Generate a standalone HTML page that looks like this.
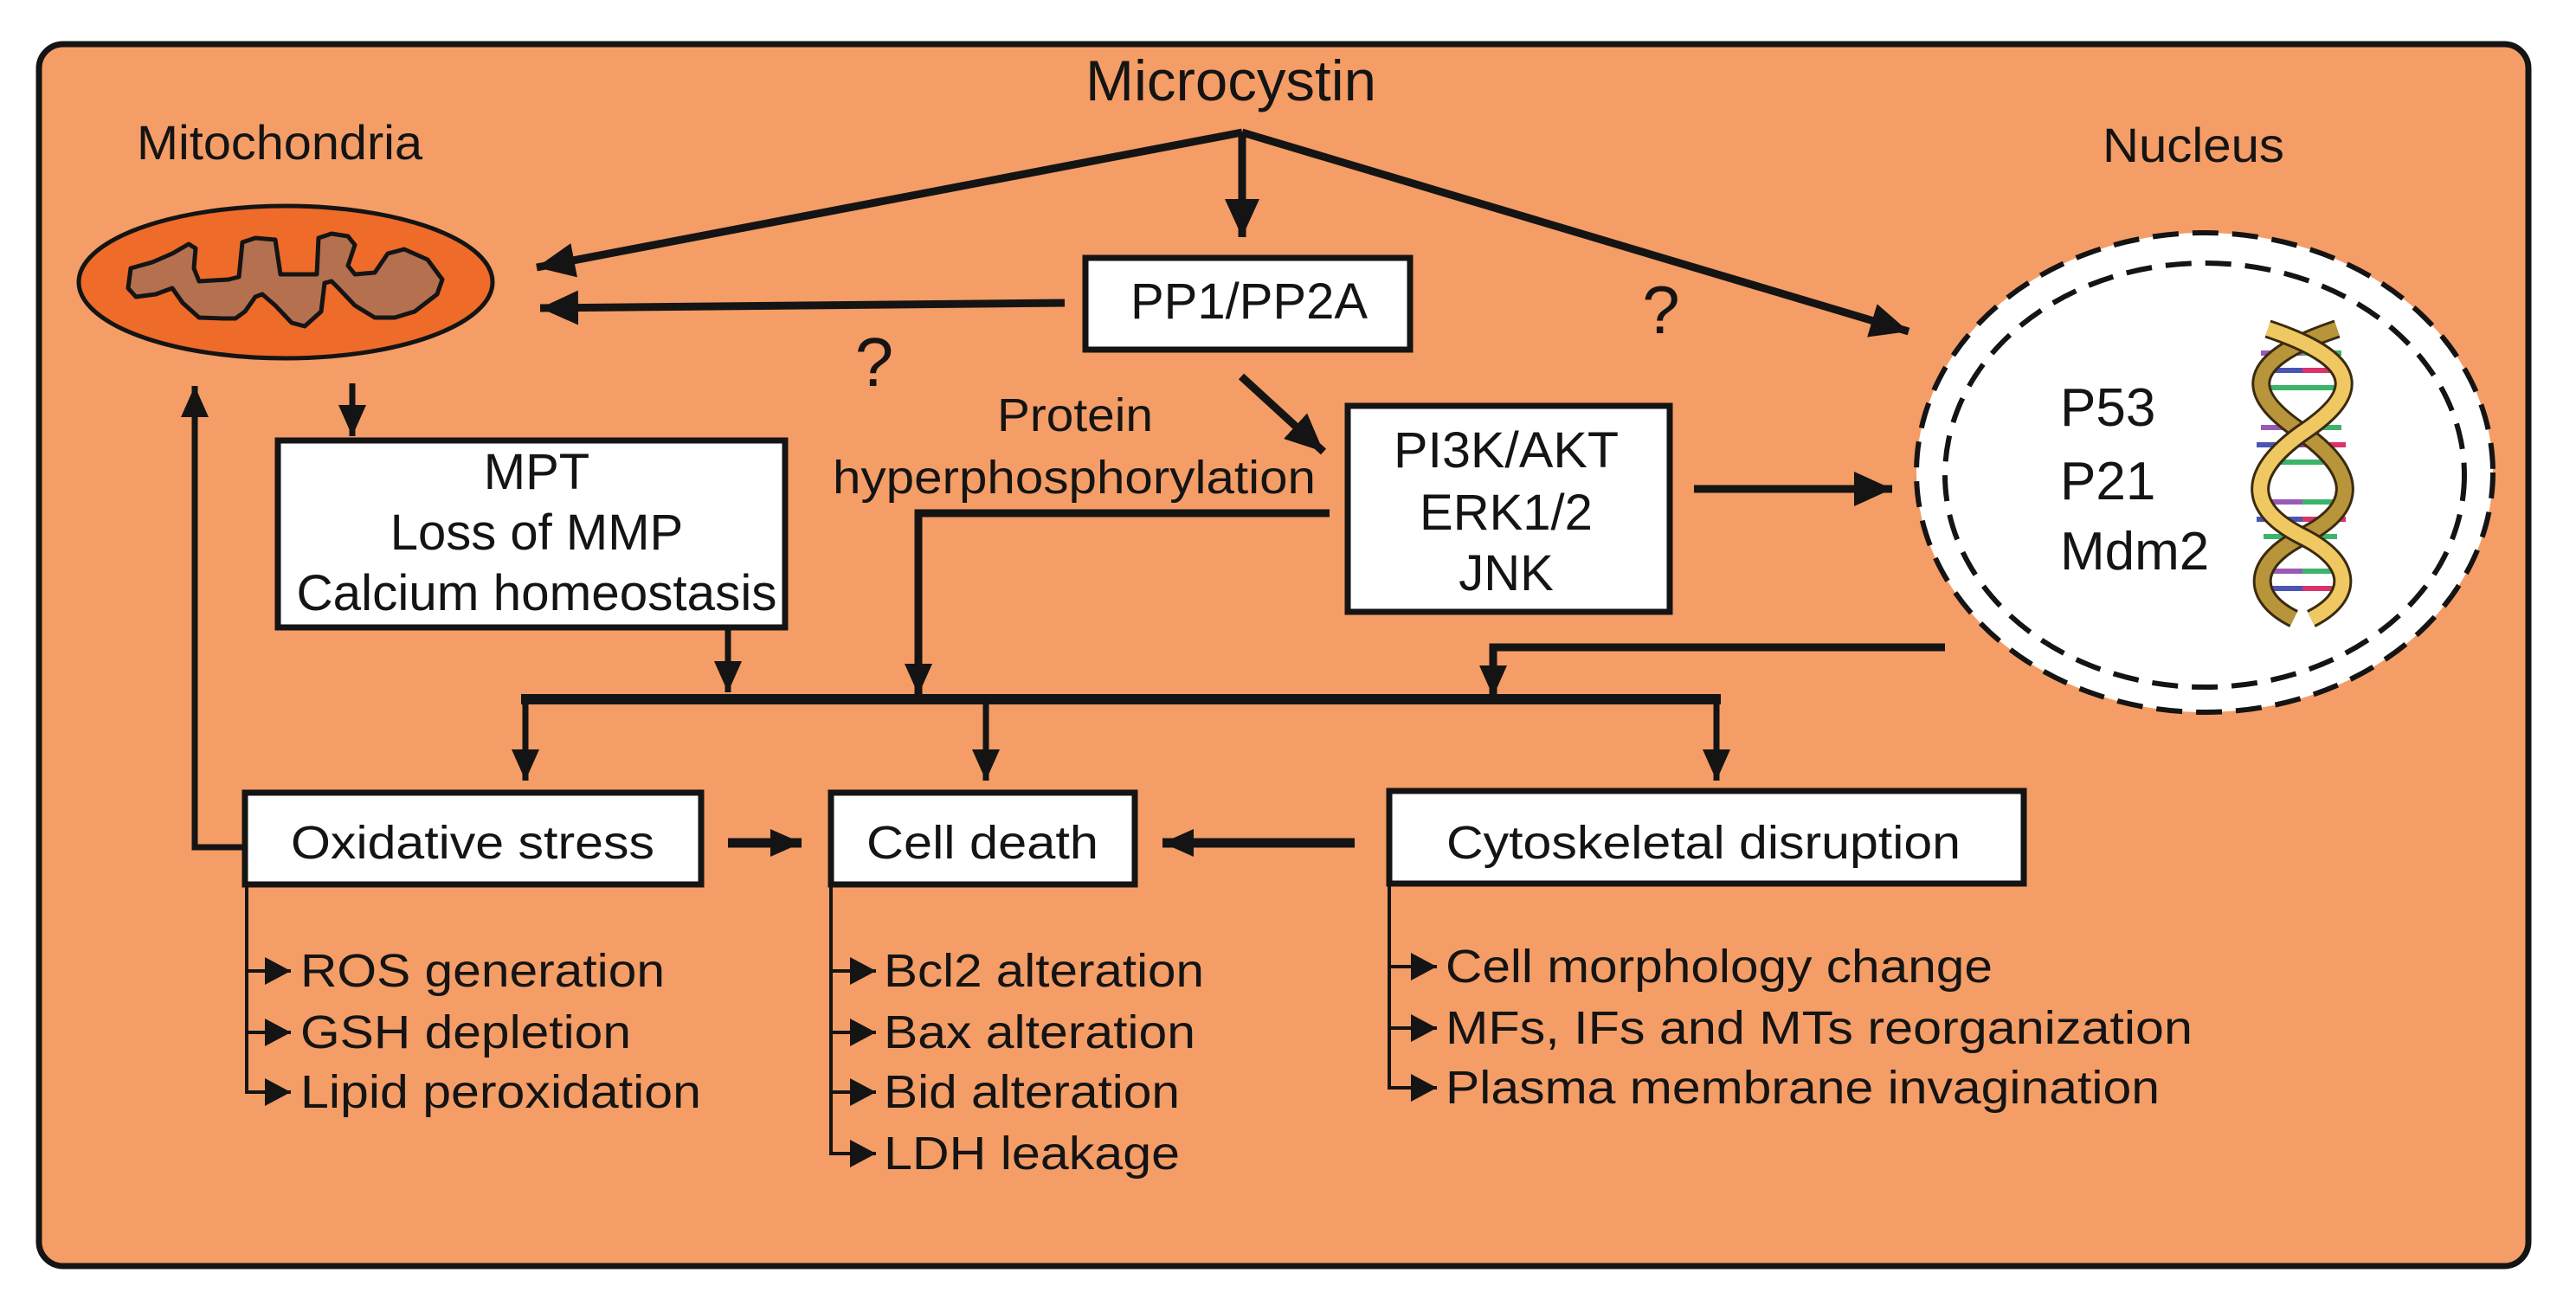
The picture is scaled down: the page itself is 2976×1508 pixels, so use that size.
<!DOCTYPE html>
<html><head><meta charset="utf-8"><style>html,body{margin:0;padding:0;background:#fff}svg{display:block}</style></head>
<body>
<svg width="2976" height="1508" viewBox="0 0 2976 1508" xmlns="http://www.w3.org/2000/svg" font-family="Liberation Sans, Arial, sans-serif" fill="#141414">
<defs>
<marker id="a" markerUnits="userSpaceOnUse" markerWidth="44" markerHeight="40" refX="36" refY="16" orient="auto"><path d="M0,0 L36,16 L0,32 Z" fill="#141414"/></marker>
<marker id="b" markerUnits="userSpaceOnUse" markerWidth="50" markerHeight="44" refX="44" refY="20" orient="auto"><path d="M0,0 L44,20 L0,40 Z" fill="#141414"/></marker>
<marker id="s" markerUnits="userSpaceOnUse" markerWidth="40" markerHeight="40" refX="30" refY="16" orient="auto"><path d="M0,0 L30,16 L0,32 Z" fill="#141414"/></marker>
</defs>
<rect x="45" y="51" width="2876" height="1412" rx="28" fill="#F49D66" stroke="#141414" stroke-width="7"/>

<text x="1422" y="116" font-size="66" text-anchor="middle" textLength="336" lengthAdjust="spacingAndGlyphs">Microcystin</text>
<text x="158" y="184" font-size="56" textLength="330" lengthAdjust="spacingAndGlyphs">Mitochondria</text>
<text x="2429" y="187" font-size="56" textLength="210" lengthAdjust="spacingAndGlyphs">Nucleus</text>

<!-- mitochondrion -->
<ellipse cx="330" cy="326" rx="239" ry="88" fill="#EE6B2A" stroke="#141414" stroke-width="5"/>
<path d="M151,310 L176,303 L199,293 L218,282 L226,287 L224,310 L230,325 L264,323 L276,320 L280,280 L295,275 L318,277 L324,317 L366,317 L368,275 L383,270 L402,273 L410,283 L402,307 L410,317 L433,315 L448,293 L467,288 L494,300 L511,323 L505,340 L479,360 L456,367 L433,367 L410,353 L391,333 L383,325 L375,327 L371,360 L352,377 L337,373 L318,353 L303,340 L295,343 L283,360 L272,368 L257,368 L230,367 L211,350 L199,333 L180,340 L157,343 L148,333 Z" fill="#B5704F" stroke="#141414" stroke-width="5" stroke-linejoin="round"/>

<!-- top arrows -->
<g stroke="#141414" stroke-width="9" fill="none">
<line x1="1435" y1="153" x2="620" y2="309" marker-end="url(#b)"/>
<line x1="1435" y1="153" x2="1435" y2="274" marker-end="url(#b)"/>
<line x1="1435" y1="153" x2="2205" y2="383" marker-end="url(#b)"/>
<line x1="1230" y1="350" x2="624" y2="356" marker-end="url(#b)"/>
<line x1="1434" y1="435" x2="1529" y2="522" marker-end="url(#b)"/>
<line x1="1957" y1="565" x2="2186" y2="565" marker-end="url(#b)"/>
</g>
<text x="1010" y="446" font-size="80" text-anchor="middle">?</text>
<text x="1919" y="385" font-size="78" text-anchor="middle">?</text>

<!-- PP1 box -->
<rect x="1254" y="298" width="375" height="106" fill="#fff" stroke="#141414" stroke-width="7"/>
<text x="1443" y="368" font-size="58" text-anchor="middle" textLength="274" lengthAdjust="spacingAndGlyphs">PP1/PP2A</text>

<text x="1242" y="498" font-size="54" text-anchor="middle" textLength="180" lengthAdjust="spacingAndGlyphs">Protein</text>
<text x="1241" y="570" font-size="54" text-anchor="middle" textLength="558" lengthAdjust="spacingAndGlyphs">hyperphosphorylation</text>

<!-- PI3K box -->
<rect x="1557" y="469" width="372" height="238" fill="#fff" stroke="#141414" stroke-width="7"/>
<g font-size="58" text-anchor="middle">
<text x="1740" y="540" textLength="260" lengthAdjust="spacingAndGlyphs">PI3K/AKT</text>
<text x="1740" y="612">ERK1/2</text>
<text x="1740" y="682">JNK</text>
</g>

<!-- nucleus -->
<ellipse cx="2547" cy="546" rx="333" ry="277" fill="#fff" stroke="#141414" stroke-width="6" stroke-dasharray="30 16"/>
<ellipse cx="2547" cy="549" rx="300" ry="245" fill="none" stroke="#141414" stroke-width="6" stroke-dasharray="30 16"/>
<g font-size="62">
<text x="2380" y="492">P53</text>
<text x="2380" y="577">P21</text>
<text x="2380" y="658">Mdm2</text>
</g>
<!-- DNA -->
<g stroke-width="6">
<line x1="2612" y1="408" x2="2705" y2="408" stroke="#9b59b6"/><line x1="2660" y1="408" x2="2705" y2="408" stroke="#3cb46a"/>
<line x1="2607" y1="428" x2="2710" y2="428" stroke="#4a55b5"/><line x1="2660" y1="428" x2="2710" y2="428" stroke="#d8336a"/>
<line x1="2615" y1="448" x2="2700" y2="448" stroke="#3cb46a"/>
<line x1="2612" y1="494" x2="2705" y2="494" stroke="#9b59b6"/><line x1="2660" y1="494" x2="2705" y2="494" stroke="#3cb46a"/>
<line x1="2607" y1="514" x2="2710" y2="514" stroke="#4a55b5"/><line x1="2660" y1="514" x2="2710" y2="514" stroke="#d8336a"/>
<line x1="2615" y1="534" x2="2700" y2="534" stroke="#3cb46a"/>
<line x1="2612" y1="580" x2="2705" y2="580" stroke="#9b59b6"/><line x1="2660" y1="580" x2="2705" y2="580" stroke="#3cb46a"/>
<line x1="2607" y1="600" x2="2710" y2="600" stroke="#4a55b5"/><line x1="2660" y1="600" x2="2710" y2="600" stroke="#d8336a"/>
<line x1="2615" y1="620" x2="2700" y2="620" stroke="#3cb46a"/>
<line x1="2612" y1="660" x2="2705" y2="660" stroke="#9b59b6"/><line x1="2660" y1="660" x2="2705" y2="660" stroke="#3cb46a"/>
<line x1="2607" y1="680" x2="2710" y2="680" stroke="#4a55b5"/><line x1="2660" y1="680" x2="2710" y2="680" stroke="#d8336a"/>
</g>
<path d="M2700,380 C2580,420 2600,460 2660,500 C2730,550 2720,590 2660,620 C2600,650 2600,690 2650,715" fill="none" stroke="#3a2a10" stroke-width="22"/>
<path d="M2700,380 C2580,420 2600,460 2660,500 C2730,550 2720,590 2660,620 C2600,650 2600,690 2650,715" fill="none" stroke="#B8953A" stroke-width="16"/>
<path d="M2620,380 C2740,420 2720,460 2660,500 C2590,550 2600,590 2660,620 C2720,650 2720,690 2670,715" fill="none" stroke="#3a2a10" stroke-width="22"/>
<path d="M2620,380 C2740,420 2720,460 2660,500 C2590,550 2600,590 2660,620 C2720,650 2720,690 2670,715" fill="none" stroke="#F0C862" stroke-width="16"/>

<!-- MPT box -->
<line x1="407" y1="443" x2="407" y2="504" stroke="#141414" stroke-width="7" marker-end="url(#a)"/>
<rect x="321" y="509" width="586" height="216" fill="#fff" stroke="#141414" stroke-width="7"/>
<g font-size="58" text-anchor="middle">
<text x="620" y="565">MPT</text>
<text x="620" y="635">Loss of MMP</text>
<text x="620" y="705" textLength="555" lengthAdjust="spacingAndGlyphs">Calcium homeostasis</text>
</g>

<!-- middle connectors -->
<g stroke="#141414" fill="none">
<line x1="841" y1="727" x2="841" y2="800" stroke-width="7" marker-end="url(#a)"/>
<polyline points="1536,593 1061,593 1061,803" stroke-width="9" marker-end="url(#a)"/>
<polyline points="2247,748 1725,748 1725,805" stroke-width="9" marker-end="url(#a)"/>
<line x1="602" y1="808" x2="1988" y2="808" stroke-width="12"/>
<line x1="607" y1="808" x2="607" y2="902" stroke-width="7" marker-end="url(#a)"/>
<line x1="1139" y1="808" x2="1139" y2="902" stroke-width="7" marker-end="url(#a)"/>
<line x1="1983" y1="808" x2="1983" y2="902" stroke-width="7" marker-end="url(#a)"/>
<polyline points="283,979 225,979 225,446" stroke-width="7" marker-end="url(#a)"/>
<line x1="841" y1="974" x2="926" y2="974" stroke-width="11" marker-end="url(#a)"/>
<line x1="1565" y1="974" x2="1343" y2="974" stroke-width="11" marker-end="url(#a)"/>
</g>

<!-- bottom boxes -->
<rect x="283" y="916" width="527" height="106" fill="#fff" stroke="#141414" stroke-width="7"/>
<text x="546" y="992" font-size="54" text-anchor="middle" textLength="420" lengthAdjust="spacingAndGlyphs">Oxidative stress</text>
<rect x="960" y="916" width="351" height="106" fill="#fff" stroke="#141414" stroke-width="7"/>
<text x="1135" y="992" font-size="54" text-anchor="middle" textLength="268" lengthAdjust="spacingAndGlyphs">Cell death</text>
<rect x="1605" y="914" width="733" height="107" fill="#fff" stroke="#141414" stroke-width="7"/>
<text x="1968" y="992" font-size="54" text-anchor="middle" textLength="594" lengthAdjust="spacingAndGlyphs">Cytoskeletal disruption</text>

<!-- sub lists -->
<g stroke="#141414" stroke-width="4" fill="none">
<polyline points="285,1024 285,1262 336,1262" marker-end="url(#s)"/>
<line x1="285" y1="1122" x2="336" y2="1122" marker-end="url(#s)"/>
<line x1="285" y1="1193" x2="336" y2="1193" marker-end="url(#s)"/>
<polyline points="960,1024 960,1333 1012,1333" marker-end="url(#s)"/>
<line x1="960" y1="1122" x2="1012" y2="1122" marker-end="url(#s)"/>
<line x1="960" y1="1193" x2="1012" y2="1193" marker-end="url(#s)"/>
<line x1="960" y1="1262" x2="1012" y2="1262" marker-end="url(#s)"/>
<polyline points="1605,1022 1605,1257 1660,1257" marker-end="url(#s)"/>
<line x1="1605" y1="1117" x2="1660" y2="1117" marker-end="url(#s)"/>
<line x1="1605" y1="1188" x2="1660" y2="1188" marker-end="url(#s)"/>
</g>
<g font-size="54">
<text x="347" y="1140" textLength="421" lengthAdjust="spacingAndGlyphs">ROS generation</text>
<text x="347" y="1211" textLength="382" lengthAdjust="spacingAndGlyphs">GSH depletion</text>
<text x="347" y="1280" textLength="463" lengthAdjust="spacingAndGlyphs">Lipid peroxidation</text>
<text x="1021" y="1140" textLength="370" lengthAdjust="spacingAndGlyphs">Bcl2 alteration</text>
<text x="1021" y="1211" textLength="360" lengthAdjust="spacingAndGlyphs">Bax alteration</text>
<text x="1021" y="1280" textLength="342" lengthAdjust="spacingAndGlyphs">Bid alteration</text>
<text x="1021" y="1351" textLength="342" lengthAdjust="spacingAndGlyphs">LDH leakage</text>
<text x="1670" y="1135" textLength="632" lengthAdjust="spacingAndGlyphs">Cell morphology change</text>
<text x="1670" y="1206" textLength="863" lengthAdjust="spacingAndGlyphs">MFs, IFs and MTs reorganization</text>
<text x="1670" y="1275" textLength="825" lengthAdjust="spacingAndGlyphs">Plasma membrane invagination</text>
</g>
</svg>
</body></html>
